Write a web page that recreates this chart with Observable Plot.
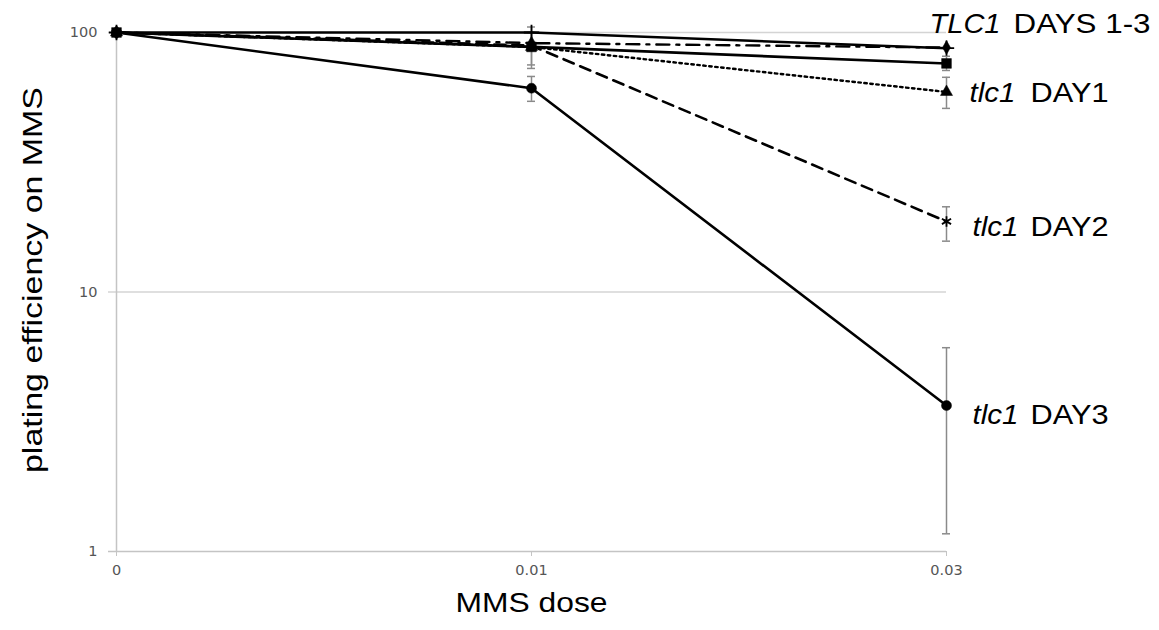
<!DOCTYPE html>
<html>
<head>
<meta charset="utf-8">
<script src="https://cdn.jsdelivr.net/npm/d3@7"></script>
<script src="https://cdn.jsdelivr.net/npm/@observablehq/plot@0.6"></script>
<style>
  html, body { margin: 0; padding: 0; background: #fff; }
  #chart svg { display: block; }
</style>
</head>
<body>
<div id="chart"></div>
<script>
// ---- data ----
const doses = ["0", "0.01", "0.03"];
const seriesNames = ["TLC1 DAY1", "TLC1 DAY2", "TLC1 DAY3", "tlc1 DAY1", "tlc1 DAY2", "tlc1 DAY3"];
const TLC1_DAY1 = [100, 91, 87.5];
const TLC1_DAY2 = [100, 88, 76];
const TLC1_DAY3 = [100, 100, 87];
const tlc1_DAY1 = [100, 88, 59];
const tlc1_DAY2 = [100, 89, 18.7];
const tlc1_DAY3 = [100, 61, 3.65];
const seriesValues = [TLC1_DAY1, TLC1_DAY2, TLC1_DAY3, tlc1_DAY1, tlc1_DAY2, tlc1_DAY3];

const errSeries = ["tlc1 DAY3", "tlc1 DAY3", "tlc1 DAY2", "tlc1 DAY2", "tlc1 DAY1", "tlc1 DAY1", "TLC1 DAY2"];
const errDose   = ["0.01", "0.03", "0.01", "0.03", "0.01", "0.03", "0.03"];
const errLow    = [54.3, 1.17, 75, 15.7, 72.7, 51, 71.4];
const errHigh   = [67.7, 6.1, 105, 21.3, 100, 67.2, 81];

const yTicks = [1, 10, 100];
const yTickLabels = ["1", "10", "100"];
const xTickLabels = ["0", "0.01", "0.03"];
const gridValues = [10, 100];

const labelItalic = ["TLC1", "tlc1", "tlc1", "tlc1"];
const labelPlain  = ["DAYS 1-3", "DAY1", "DAY2", "DAY3"];
const labelAnchor = ["TLC1 DAY1", "tlc1 DAY1", "tlc1 DAY2", "tlc1 DAY3"];

// ---- layout / style (not data) ----
const labelOffsets = [
  {dxI: -17, dxP: 67, dy: -24},
  {dxI: 23, dxP: 84, dy: 1},
  {dxI: 26, dxP: 84, dy: 5.5},
  {dxI: 26, dxP: 84, dy: 9.5}
];
const textLengths = {
  "TLC1": 71, "DAYS 1-3": 137, "tlc1": 46, "DAY1": 78, "DAY2": 78, "DAY3": 78,
  "MMS dose": 152, "plating efficiency on MMS": 386
};
const styles = {
  "TLC1 DAY1": {dash: "13,7,3,7", width: 2.4, symbol: "diamond", r: 4.2, fill: true},
  "TLC1 DAY2": {dash: null, width: 2.6, symbol: "square", r: 5.5, fill: true},
  "TLC1 DAY3": {dash: null, width: 2.4, symbol: "plus", r: 5, fill: false},
  "tlc1 DAY1": {dash: "2.5,3.5", width: 2.4, symbol: "triangle", r: 4.5, fill: true},
  "tlc1 DAY2": {dash: "11,7", width: 2.6, symbol: "asterisk", r: 5, fill: false},
  "tlc1 DAY3": {dash: null, width: 2.6, symbol: "circle", r: 5, fill: true}
};
const TICK_FONT = "'DejaVu Sans', Verdana, sans-serif";
const TICK_COLOR = "#555555";

// ---- build tables ----
const rows = seriesNames.flatMap((s, i) => doses.map((d, j) => ({series: s, dose: d, value: seriesValues[i][j]})));
const errs = errSeries.map((s, i) => ({series: s, dose: errDose[i], lo: errLow[i], hi: errHigh[i]}));
const lastOf = s => seriesValues[seriesNames.indexOf(s)][doses.length - 1];
const labels = labelItalic.map((t, i) => ({italic: t, plain: labelPlain[i], dose: doses[doses.length - 1], value: lastOf(labelAnchor[i])}));
const yTickRows = yTicks.map((v, i) => ({v, label: yTickLabels[i]}));
const xTickRows = doses.map((d, i) => ({d, label: xTickLabels[i]}));

const lineMarks = seriesNames.map(s => Plot.line(rows.filter(d => d.series === s), {
  x: "dose", y: "value", stroke: "black", strokeWidth: styles[s].width,
  strokeDasharray: styles[s].dash || undefined
}));
const dotMarks = seriesNames.map(s => Plot.dot(rows.filter(d => d.series === s), {
  x: "dose", y: "value", symbol: styles[s].symbol, r: styles[s].r,
  fill: styles[s].fill ? "black" : "none",
  stroke: "black", strokeWidth: styles[s].fill ? 0.5 : 1.8
}));
const labelMarks = labels.flatMap((d, i) => [
  Plot.text([d], {x: "dose", y: "value", text: "italic", fontStyle: "italic", textAnchor: "start",
    fill: "black", fontSize: 28, dx: labelOffsets[i].dxI, dy: labelOffsets[i].dy}),
  Plot.text([d], {x: "dose", y: "value", text: "plain", textAnchor: "start",
    fill: "black", fontSize: 28, dx: labelOffsets[i].dxP, dy: labelOffsets[i].dy})
]);

const FONT = "'Liberation Sans', Arial, Helvetica, sans-serif";

const chart = Plot.plot({
  width: 1159,
  height: 630,
  marginLeft: 116,
  marginRight: 213,
  marginTop: 32,
  marginBottom: 79,
  style: {fontFamily: FONT, background: "white", color: "#c4c4c4"},
  x: {type: "point", domain: doses, padding: 0, tickSize: 5, tickFormat: () => "", label: null},
  y: {type: "log", domain: [1, 100], axis: null},
  marks: [
    Plot.ruleY(gridValues, {stroke: "#d4d4d4", strokeWidth: 1.5, insetLeft: -8}),
    Plot.ruleY([1], {stroke: "#c4c4c4", strokeWidth: 1.5, insetLeft: -8}),
    Plot.ruleX([doses[0]], {stroke: "#c4c4c4", strokeWidth: 1.5}),
    // tick labels
    Plot.text(yTickRows, {y: "v", text: "label", frameAnchor: "left", textAnchor: "end", dx: -19,
      fontSize: 14.5, fontFamily: TICK_FONT, fill: TICK_COLOR}),
    Plot.text(xTickRows, {x: "d", text: "label", frameAnchor: "bottom", textAnchor: "middle", dy: 23,
      fontSize: 14.5, fontFamily: TICK_FONT, fill: TICK_COLOR}),
    // error bars
    Plot.ruleX(errs, {x: "dose", y1: "lo", y2: "hi", stroke: "#8a8a8a", strokeWidth: 1.5}),
    Plot.ruleY(errs, {x1: "dose", x2: "dose", y: "lo", stroke: "#8a8a8a", strokeWidth: 1.5, insetLeft: -4, insetRight: -4}),
    Plot.ruleY(errs, {x1: "dose", x2: "dose", y: "hi", stroke: "#8a8a8a", strokeWidth: 1.5, insetLeft: -4, insetRight: -4}),
    ...lineMarks,
    ...dotMarks,
    ...labelMarks,
    // axis titles
    Plot.text(["plating efficiency on MMS"], {frameAnchor: "left", textAnchor: "middle", rotate: -90, dx: -83, dy: -12, fill: "black", fontSize: 28}),
    Plot.text(["MMS dose"], {frameAnchor: "bottom", textAnchor: "middle", dy: 60, fill: "black", fontSize: 28})
  ]
});
d3.select(chart).selectAll("text").each(function() {
  const L = textLengths[this.textContent];
  if (L) {
    this.setAttribute("textLength", L);
    this.setAttribute("lengthAdjust", "spacingAndGlyphs");
  }
});
document.getElementById("chart").appendChild(chart);
</script>
</body>
</html>
